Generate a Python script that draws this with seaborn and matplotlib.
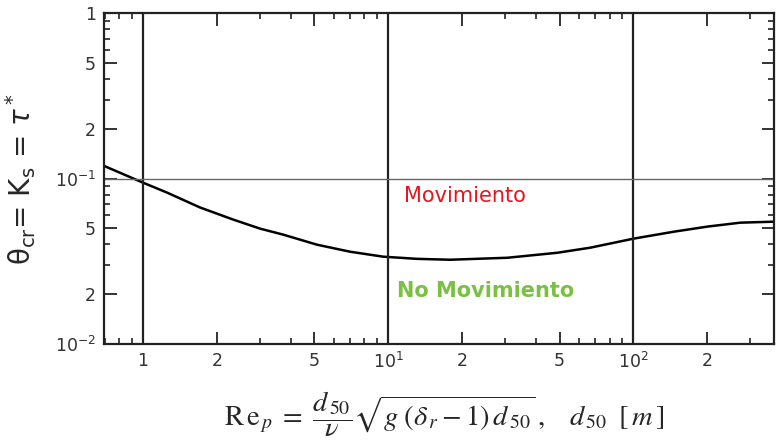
import matplotlib
matplotlib.use("Agg")
import matplotlib.pyplot as plt
import seaborn as sns
import pandas as pd
from matplotlib.ticker import FixedLocator, FixedFormatter, NullFormatter

sns.set_style("ticks")
plt.rcParams['font.family'] = ['DejaVu Sans']
plt.rcParams['mathtext.fontset'] = 'dejavusans'

# Curve (Shields curve)
rep = [0.687, 0.996, 1.253, 1.709, 2.33, 3.00, 3.73, 5.13, 7.0, 9.55, 13.1, 17.9,
       30.6, 49.0, 66.7, 100, 146, 200, 273, 383]
theta = [0.1199, 0.0946, 0.0822, 0.0668, 0.0565, 0.0498, 0.0458, 0.0398, 0.0361,
         0.0337, 0.0327, 0.0323, 0.0332, 0.0356, 0.0382, 0.0433, 0.0477, 0.0512,
         0.0541, 0.0549]

x_major = [1, 2, 5, 10, 20, 50, 100, 200]
x_labels = ["1", "2", "5", r"$10^{1}$", "2", "5", r"$10^{2}$", "2"]
y_major = [0.01, 0.02, 0.05, 0.1, 0.2, 0.5, 1]
y_labels = [r"$10^{-2}$", "2", "5", r"$10^{-1}$", "2", "5", "1"]
x_minor = [0.7, 0.8, 0.9, 3, 4, 6, 7, 8, 9, 30, 40, 60, 70, 80, 90, 300]
y_minor = [0.03, 0.04, 0.06, 0.07, 0.08, 0.09, 0.3, 0.4, 0.6, 0.7, 0.8, 0.9]
vlines = [1, 10, 100]
threshold = 0.1

df = pd.DataFrame({"Rep": rep, "theta": theta})

fig = plt.figure(figsize=(7.76, 4.44), dpi=100)
ax = fig.add_axes([0.134, 0.2252, 0.864, 0.7455])

sns.lineplot(data=df, x="Rep", y="theta", ax=ax, color="black", lw=1.8)
ax.set_xscale("log")
ax.set_yscale("log")
ax.set_xlim(0.693, 376)
ax.set_ylim(0.01, 1)

for v in vlines:
    ax.axvline(v, color="#222222", lw=1.6)
ax.axhline(threshold, color="#666666", lw=1.0)

ax.xaxis.set_major_locator(FixedLocator(x_major))
ax.xaxis.set_major_formatter(FixedFormatter(x_labels))
ax.xaxis.set_minor_locator(FixedLocator(x_minor))
ax.xaxis.set_minor_formatter(NullFormatter())
ax.yaxis.set_major_locator(FixedLocator(y_major))
ax.yaxis.set_major_formatter(FixedFormatter(y_labels))
ax.yaxis.set_minor_locator(FixedLocator(y_minor))
ax.yaxis.set_minor_formatter(NullFormatter())

ax.tick_params(which="both", direction="in", top=True, right=True, color="#222222")
ax.tick_params(which="major", length=9, width=1.3, labelsize=12.5, pad=6, labelcolor="#333333")
ax.tick_params(which="minor", length=4, width=1.2)
for s in ax.spines.values():
    s.set_linewidth(1.6)
    s.set_color("#222222")

ax.set_xlabel("")
ax.set_ylabel(r"θ$_\mathregular{cr}$= K$_\mathregular{s}$ = $\tau^*$", fontsize=20, labelpad=12)

ax.text(20.6, 0.0788, "Movimiento", color="#e8141c", fontsize=15,
        ha="center", va="center")
ax.text(24.9, 0.0210, "No Movimiento", color="#7ac143", fontsize=15,
        fontweight="bold", ha="center", va="center")

fig.text(0.573, 0.066,
         r"$\mathrm{R\,e}_{\,p}\;=\;\dfrac{d_{\,50}}{\nu}\sqrt{g\;(\delta_{\,r}-1)\,d_{\,50}}\,,\quad d_{\,50}\;\;[\,m\,]$",
         fontsize=20.5, ha="center", va="center", math_fontfamily="stix")

fig.savefig("out.png", dpi=100)
